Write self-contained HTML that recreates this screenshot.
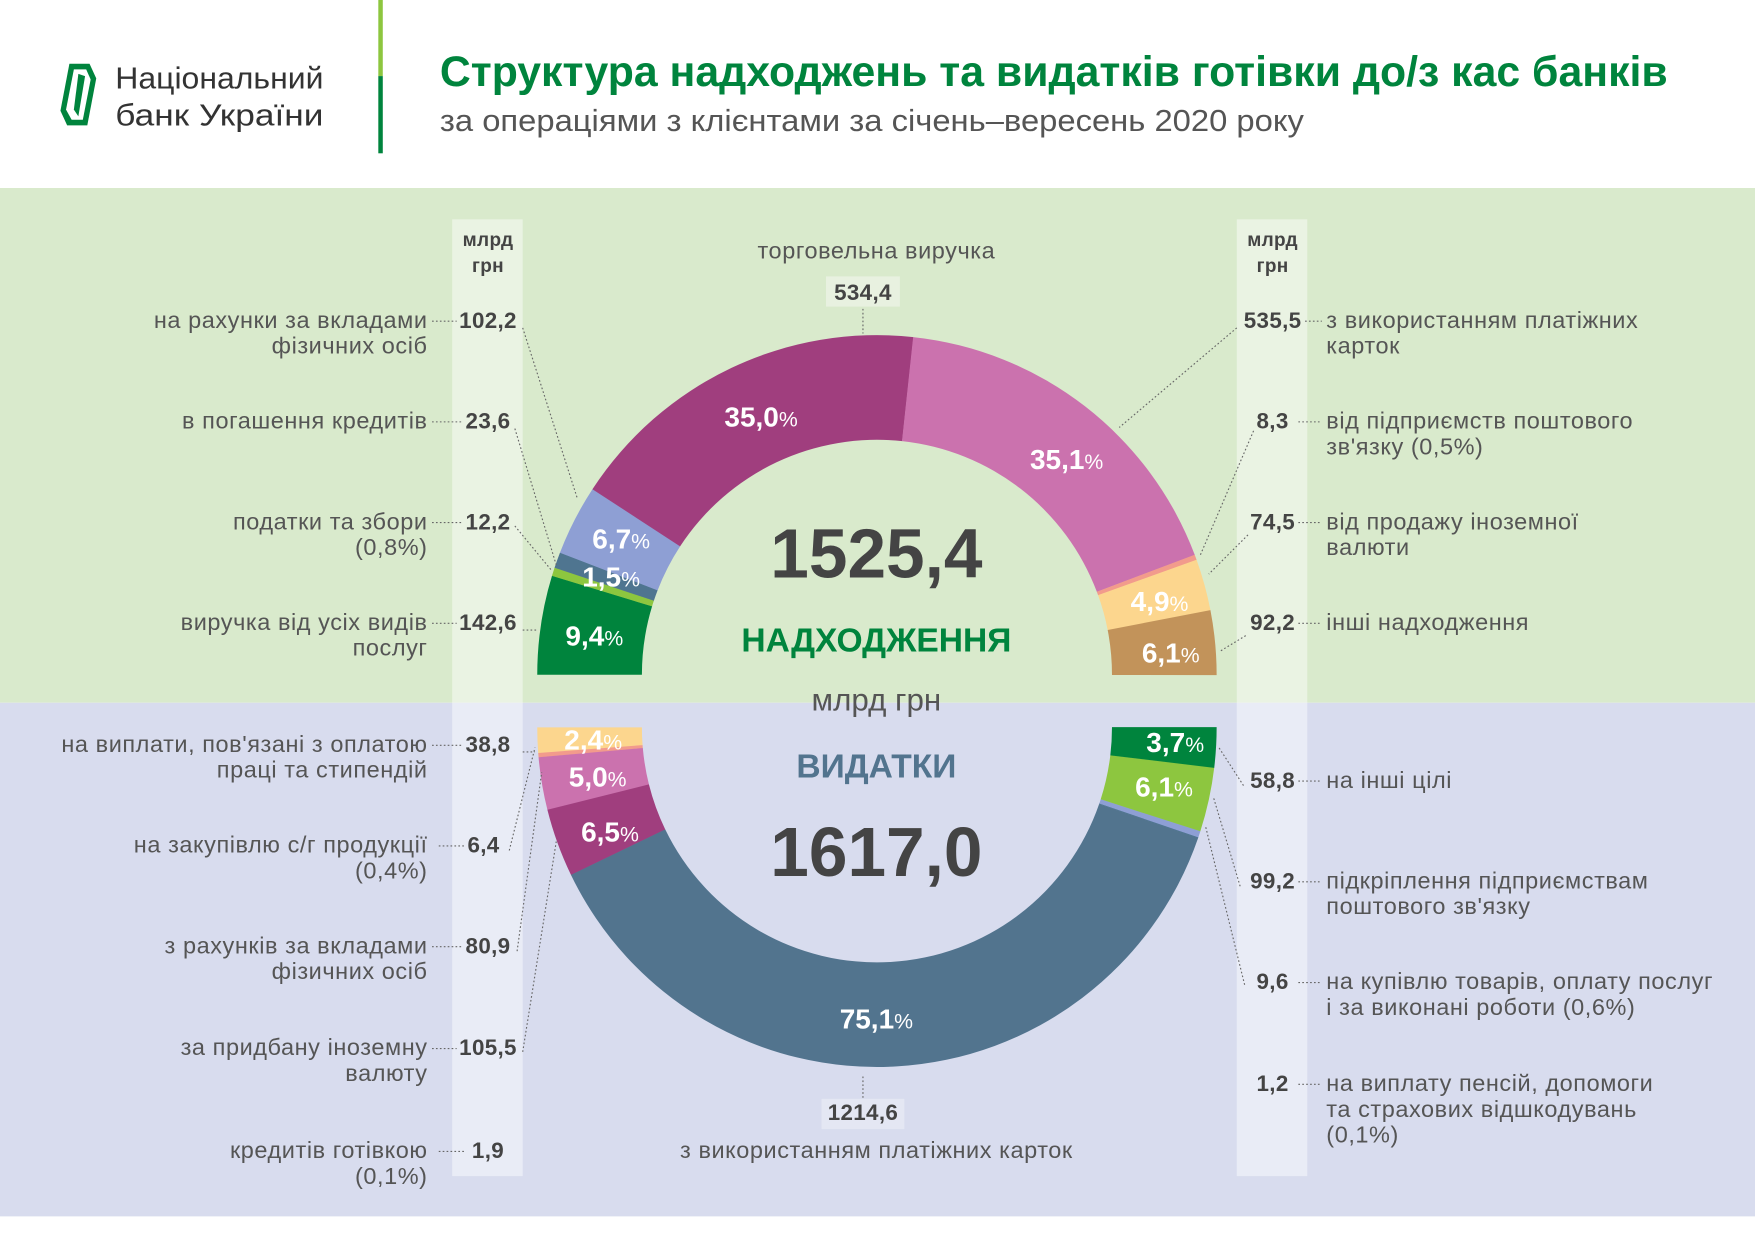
<!DOCTYPE html>
<html><head><meta charset="utf-8"><style>
html,body{margin:0;padding:0;background:#fff;}
svg{display:block;}
text{font-family:"Liberation Sans",sans-serif;}
.l{font-size:21px;fill:#555;text-anchor:end;letter-spacing:0.5px;}
.r{font-size:21px;fill:#555;letter-spacing:0.5px;}
.n{font-size:20px;fill:#444;font-weight:bold;text-anchor:middle;letter-spacing:0.3px;}
.p{font-size:25px;fill:#fff;font-weight:bold;text-anchor:middle;}
.p tspan{font-weight:normal;font-size:19px;}
.d{stroke:#666;stroke-width:1;stroke-dasharray:1.5 2;fill:none;}
</style></head><body>
<svg id="s" width="1755" height="1241" viewBox="0 0 1568 1109" preserveAspectRatio="none" xmlns="http://www.w3.org/2000/svg">
<rect x="0" y="0" width="1568" height="1109" fill="#fff"/>
<rect x="0" y="168" width="1568" height="460" fill="#d9eacc"/>
<rect x="0" y="628" width="1568" height="459" fill="#d8dcee"/>
<rect x="404" y="196" width="63" height="855" fill="#fff" opacity="0.45"/>
<rect x="1105" y="196" width="63" height="855" fill="#fff" opacity="0.45"/>
<!-- header -->
<path d="M62,57 L80,57 L86,70 L78,112 L60,112 L54,99 Z" fill="#00843d"/>
<path d="M66,62 L77,62 L81,71 L74,107 L64,107 L59,98 Z" fill="#fff"/>
<path d="M70,66 L76,68 L70,104 L66,98 Z" fill="#00843d"/>
<text x="103" y="79" style="font-size:27px;fill:#333" textLength="186" lengthAdjust="spacingAndGlyphs">Національний</text>
<text x="103" y="112" style="font-size:27px;fill:#333" textLength="186" lengthAdjust="spacingAndGlyphs">банк України</text>
<rect x="338" y="0" width="4" height="68" fill="#8dc63f"/>
<rect x="338" y="68" width="4" height="69" fill="#00843d"/>
<text x="393" y="77" style="font-size:38px;fill:#00843d;font-weight:bold" textLength="1097" lengthAdjust="spacingAndGlyphs">Структура надходжень та видатків готівки до/з кас банків</text>
<text x="393" y="117" style="font-size:27px;fill:#555" textLength="772" lengthAdjust="spacingAndGlyphs">за операціями з клієнтами за січень–вересень 2020 року</text>
<g id="arcs"></g>
<!-- column headers -->
<text x="436" y="220" class="n" style="font-size:17px">млрд</text>
<text x="436" y="243" class="n" style="font-size:17px">грн</text>
<text x="1137" y="220" class="n" style="font-size:17px">млрд</text>
<text x="1137" y="243" class="n" style="font-size:17px">грн</text>
<!-- center -->
<text x="783" y="231" class="r" style="text-anchor:middle">торговельна виручка</text>
<rect x="738" y="247" width="66" height="27" fill="#e8f1e0"/>
<text x="771" y="268" class="n">534,4</text>
<line x1="771" y1="276" x2="771" y2="298" class="d"/>
<text x="783" y="516" style="font-size:62px;font-weight:bold;fill:#444;text-anchor:middle">1525,4</text>
<text x="783" y="582" style="font-size:30px;font-weight:bold;fill:#00843d;text-anchor:middle">НАДХОДЖЕННЯ</text>
<text x="783" y="635" style="font-size:28px;fill:#555;text-anchor:middle">млрд грн</text>
<text x="783" y="695" style="font-size:30px;font-weight:bold;fill:#52748e;text-anchor:middle">ВИДАТКИ</text>
<text x="783" y="783" style="font-size:62px;font-weight:bold;fill:#444;text-anchor:middle">1617,0</text>
<line x1="771" y1="962" x2="771" y2="983" class="d"/>
<rect x="734" y="982" width="74" height="27" fill="#e4e7f3"/>
<text x="771" y="1001" class="n">1214,6</text>
<text x="783" y="1035" class="r" style="text-anchor:middle">з використанням платіжних карток</text>
<!-- left upper -->
<text x="382" y="293" class="l">на рахунки за вкладами</text><text x="382" y="316" class="l">фізичних осіб</text><text x="436" y="293" class="n">102,2</text>
<text x="382" y="383" class="l">в погашення кредитів</text><text x="436" y="383" class="n">23,6</text>
<text x="382" y="473" class="l">податки та збори</text><text x="382" y="496" class="l">(0,8%)</text><text x="436" y="473" class="n">12,2</text>
<text x="382" y="563" class="l">виручка від усіх видів</text><text x="382" y="586" class="l">послуг</text><text x="436" y="563" class="n">142,6</text>
<!-- right upper -->
<text x="1185" y="293" class="r">з використанням платіжних</text><text x="1185" y="316" class="r">карток</text><text x="1137" y="293" class="n">535,5</text>
<text x="1185" y="383" class="r">від підприємств поштового</text><text x="1185" y="406" class="r">зв'язку (0,5%)</text><text x="1137" y="383" class="n">8,3</text>
<text x="1185" y="473" class="r">від продажу іноземної</text><text x="1185" y="496" class="r">валюти</text><text x="1137" y="473" class="n">74,5</text>
<text x="1185" y="563" class="r">інші надходження</text><text x="1137" y="563" class="n">92,2</text>
<!-- left lower -->
<text x="382" y="672" class="l">на виплати, пов'язані з оплатою</text><text x="382" y="695" class="l">праці та стипендій</text><text x="436" y="672" class="n">38,8</text>
<text x="382" y="762" class="l">на закупівлю с/г продукції</text><text x="382" y="785" class="l">(0,4%)</text><text x="432" y="762" class="n">6,4</text>
<text x="382" y="852" class="l">з рахунків за вкладами</text><text x="382" y="875" class="l">фізичних осіб</text><text x="436" y="852" class="n">80,9</text>
<text x="382" y="943" class="l">за придбану іноземну</text><text x="382" y="966" class="l">валюту</text><text x="436" y="943" class="n">105,5</text>
<text x="382" y="1035" class="l">кредитів готівкою</text><text x="382" y="1058" class="l">(0,1%)</text><text x="436" y="1035" class="n">1,9</text>
<!-- right lower -->
<text x="1185" y="704" class="r">на інші цілі</text><text x="1137" y="704" class="n">58,8</text>
<text x="1185" y="794" class="r">підкріплення підприємствам</text><text x="1185" y="817" class="r">поштового зв'язку</text><text x="1137" y="794" class="n">99,2</text>
<text x="1185" y="884" class="r">на купівлю товарів, оплату послуг</text><text x="1185" y="907" class="r">і за виконані роботи (0,6%)</text><text x="1137" y="884" class="n">9,6</text>
<text x="1185" y="975" class="r">на виплату пенсій, допомоги</text><text x="1185" y="998" class="r">та страхових відшкодувань</text><text x="1185" y="1021" class="r">(0,1%)</text><text x="1137" y="975" class="n">1,2</text>
<!-- leaders -->
<g class="d">
<path d="M386,287H408 M386,377H413 M386,467H413 M386,557H408 M1166,287H1181 M1160,377H1181 M1160,467H1181 M1160,557H1181"/>
<path d="M386,666H413 M392,756H415 M386,846H413 M386,937H408 M392,1029H415 M1160,698H1181 M1160,788H1181 M1160,878H1181 M1160,969H1181"/>
<path d="M467,293L516,446 M460,383L497,505 M460,470L493,510 M467,563H480"/>
<path d="M1105,293L1000,382 M1120,385L1072,497 M1115,478L1080,513 M1113,568L1090,582"/>
<path d="M467,672L478,672 M455,760L478,668 M462,850L484,690 M467,940L497,752"/>
<path d="M1111,702L1089,668 M1108,792L1084,712 M1112,880L1077,738"/>
</g>
<!-- percent labels -->
<text x="680" y="381" class="p">35,0<tspan>%</tspan></text>
<text x="953" y="419" class="p">35,1<tspan>%</tspan></text>
<text x="555" y="490" class="p">6,7<tspan>%</tspan></text>
<text x="546" y="524" class="p">1,5<tspan>%</tspan></text>
<text x="531" y="577" class="p">9,4<tspan>%</tspan></text>
<text x="1036" y="546" class="p">4,9<tspan>%</tspan></text>
<text x="1046" y="592" class="p">6,1<tspan>%</tspan></text>
<text x="530" y="670" class="p">2,4<tspan>%</tspan></text>
<text x="534" y="703" class="p">5,0<tspan>%</tspan></text>
<text x="545" y="752" class="p">6,5<tspan>%</tspan></text>
<text x="783" y="919" class="p">75,1<tspan>%</tspan></text>
<text x="1050" y="672" class="p">3,7<tspan>%</tspan></text>
<text x="1040" y="712" class="p">6,1<tspan>%</tspan></text>
</svg>
<script>
(function(){
var g=document.getElementById('arcs');var cx=783.5,R=303.5,r=210;
function seg(cy,dir,a0,a1,col){
 function pt(rad,a){var t=a*Math.PI/180;return [cx-rad*Math.cos(t),cy-dir*rad*Math.sin(t)];}
 var p1=pt(R,a0),p2=pt(R,a1),p3=pt(r,a1),p4=pt(r,a0);
 var sw=dir>0?1:0, sw2=dir>0?0:1;
 var d='M'+p1+' A'+R+','+R+' 0 0 '+sw+' '+p2+' L'+p3+' A'+r+','+r+' 0 0 '+sw2+' '+p4+'Z';
 var e=document.createElementNS('http://www.w3.org/2000/svg','path');
 e.setAttribute('d',d);e.setAttribute('fill',col);g.appendChild(e);}
function ring(cy,dir,list){var c=0;list.forEach(function(s){var a0=c*1.8;c+=s[0];seg(cy,dir,a0,Math.min(c,100)*1.8+0.05,s[1]);});}
ring(603,1,[[9.4,'#00843d'],[0.8,'#8dc63f'],[1.5,'#4f7590'],[6.7,'#8e9fd4'],[35.0,'#a03e7e'],[35.1,'#cb72ae'],[0.5,'#f29b8c'],[4.9,'#fcd68e'],[6.1,'#c2935a']]);
ring(650,-1,[[2.4,'#fcd68e'],[0.4,'#f29b8c'],[5.0,'#cb72ae'],[6.5,'#a03e7e'],[75.1,'#52748e'],[0.1,'#4f7590'],[0.6,'#8e9fd4'],[6.1,'#8dc63f'],[3.8,'#00843d']]);
})();
</script>
</body></html>
